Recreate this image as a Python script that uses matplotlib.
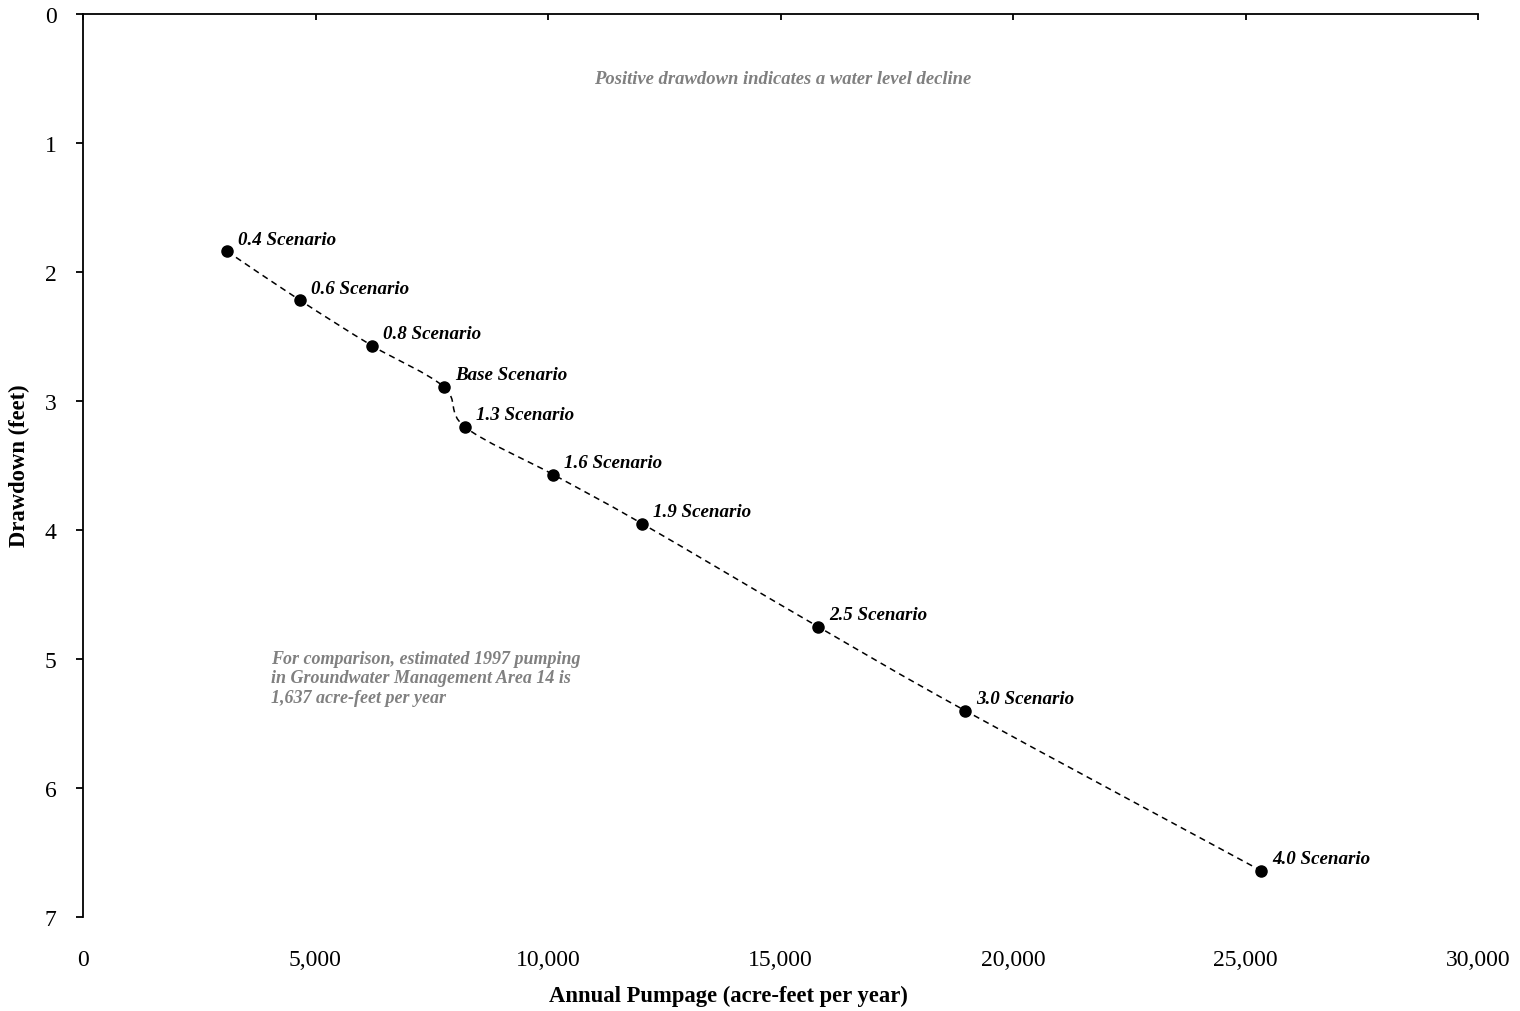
import matplotlib
matplotlib.use("Agg")
import matplotlib.pyplot as plt
from matplotlib.path import Path
from matplotlib.patches import PathPatch

# data
scenarios = ['0.4 Scenario', '0.6 Scenario', '0.8 Scenario', 'Base Scenario', '1.3 Scenario',
             '1.6 Scenario', '1.9 Scenario', '2.5 Scenario', '3.0 Scenario', '4.0 Scenario']
pumpage = [3100, 4670, 6210, 7760, 8210, 10110, 12020, 15810, 18970, 25330]
drawdown = [1.84, 2.22, 2.57, 2.89, 3.20, 3.57, 3.95, 4.75, 5.40, 6.64]

x_ticks = [0, 5000, 10000, 15000, 20000, 25000, 30000]
y_ticks = [0, 1, 2, 3, 4, 5, 6, 7]

plt.rcParams['font.family'] = ['Liberation Serif', 'DejaVu Serif']

fig = plt.figure(figsize=(15.2, 10.12), dpi=100)
ax = fig.add_axes([83/1520, 1 - 918/1012, (1478 - 83)/1520, (918 - 15)/1012])

# smoothed dashed line (excel style bezier through the points)
pts = list(zip(pumpage, drawdown))
verts = [pts[0]]
codes = [Path.MOVETO]
n = len(pts)
for i in range(n - 1):
    p0 = pts[i - 1] if i > 0 else pts[i]
    p1 = pts[i]
    p2 = pts[i + 1]
    p3 = pts[i + 2] if i + 2 < n else pts[i + 1]
    c1 = (p1[0] + (p2[0] - p0[0]) / 6, p1[1] + (p2[1] - p0[1]) / 6)
    c2 = (p2[0] - (p3[0] - p1[0]) / 6, p2[1] - (p3[1] - p1[1]) / 6)
    verts += [c1, c2, p2]
    codes += [Path.CURVE4] * 3
ax.add_patch(PathPatch(Path(verts, codes), fill=False, edgecolor='black',
                       lw=1.1, linestyle=(0, (4, 3))))

ax.plot(pumpage, drawdown, 'o', color='black', markersize=8, zorder=3)

for name, xv, yv in zip(scenarios, pumpage, drawdown):
    ax.annotate(name, (xv, yv), xytext=(11, 12), textcoords='offset pixels',
                ha='left', va='center', fontsize=13.7, fontweight='bold',
                fontstyle='italic', color='black')

ax.set_xlim(0, 30000)
ax.set_ylim(7, 0)
ax.set_xticks(x_ticks)
ax.set_yticks(y_ticks)
ax.set_xticklabels(['{:,}'.format(v) for v in x_ticks])
ax.set_yticklabels([str(v) for v in y_ticks])

for s in ['right', 'bottom']:
    ax.spines[s].set_visible(False)
for s in ['left', 'top']:
    ax.spines[s].set_linewidth(1.3)

ax.tick_params(axis='x', top=True, bottom=False, labeltop=False, labelbottom=True,
               direction='in', length=4, width=1.3, labelsize=17, pad=23)
ax.tick_params(axis='y', direction='out', length=5, width=1.3, labelsize=17, pad=14)

fig.text(728/1520, 1 - 996/1012, 'Annual Pumpage (acre-feet per year)', ha='center',
         va='center', fontsize=16.3, fontweight='bold')
fig.text(19/1520, 1 - 466/1012, 'Drawdown (feet)', ha='center', va='center',
         rotation=90, fontsize=16.3, fontweight='bold')

ax.text(783/1520, 1 - 80/1012, 'Positive drawdown indicates a water level decline',
        transform=fig.transFigure, ha='center', va='center', fontsize=13.4,
        fontweight='bold', fontstyle='italic', color='#808080')
ax.text(271/1520, 1 - 651/1012,
        'For comparison, estimated 1997 pumping\nin Groundwater Management Area 14 is\n1,637 acre-feet per year',
        transform=fig.transFigure, ha='left', va='top', fontsize=13,
        fontweight='bold', fontstyle='italic', color='#808080', linespacing=1.18)

fig.savefig('out.png', dpi=100)
